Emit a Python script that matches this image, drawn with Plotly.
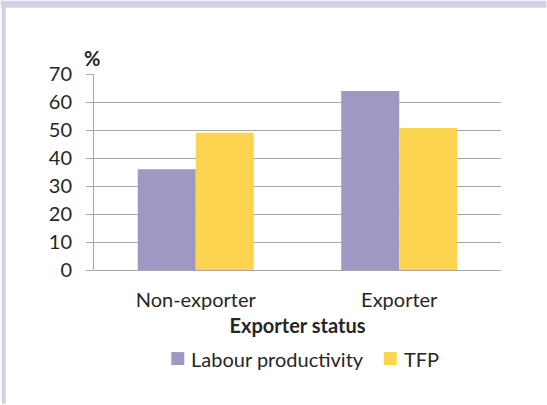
import plotly.graph_objects as go

categories = ["Non-exporter", "Exporter"]
labour_productivity = [36.0, 63.9]
tfp = [49.0, 50.7]
y_ticks = [0, 10, 20, 30, 40, 50, 60, 70]
series_names = ["Labour productivity", "TFP"]
series_colors = ["#9E99C2", "#FDD44F"]

W, H = 547, 405
L, R, T, B = 93.5, 45.5, 73.5, 134.5
pw, ph = W - L - R, H - T - B

def px_x(x):
    return (x - L) / pw

def px_y(y):
    return (H - B - y) / ph

FONT = "Lato"
TXT = "#262626"
FS = 20

fig = go.Figure()
for name, vals, col in zip(series_names, [labour_productivity, tfp], series_colors):
    fig.add_trace(go.Bar(name=name, x=categories, y=vals,
                         marker=dict(color=col, line=dict(width=0))))

# manual legend (swatch + label)
legend_items = [(171, 189), (384, 402)]
shapes = [
    dict(type="rect", xref="paper", yref="paper", x0=px_x(0), x1=px_x(W), y0=px_y(7), y1=px_y(0),
         fillcolor="#D2CFE7", line=dict(width=0), layer="below"),
    dict(type="rect", xref="paper", yref="paper", x0=px_x(1), x1=px_x(5), y0=px_y(H), y1=px_y(0),
         fillcolor="#D2CFE7", line=dict(width=0), layer="below"),
]
annotations = [
    dict(text="<b>%</b>", xref="paper", yref="paper", x=px_x(91), y=px_y(57),
         xanchor="center", yanchor="middle", showarrow=False, font=dict(size=FS, color=TXT)),
]
for (sx, tx), name, col in zip(legend_items, series_names, series_colors):
    shapes.append(dict(type="rect", xref="paper", yref="paper", x0=px_x(sx), x1=px_x(sx + 13),
                       y0=px_y(366), y1=px_y(353), fillcolor=col, line=dict(width=0)))
    annotations.append(dict(text=name, xref="paper", yref="paper", x=px_x(tx), y=px_y(360),
                            xanchor="left", yanchor="middle", showarrow=False,
                            font=dict(size=FS, color=TXT)))

fig.update_layout(
    width=W, height=H,
    margin=dict(l=L, r=R, t=T, b=B, autoexpand=False),
    paper_bgcolor="white", plot_bgcolor="white",
    barmode="group", bargap=0.43, bargroupgap=0,
    font=dict(family=FONT, size=FS, color=TXT),
    showlegend=False,
    xaxis=dict(showline=False, ticks="", showgrid=False, zeroline=False,
               tickfont=dict(size=FS, color=TXT), ticklabelstandoff=16,
               title=dict(text="<b>Exporter status</b>", font=dict(size=FS, color=TXT), standoff=8)),
    yaxis=dict(range=[0, 70], tickvals=y_ticks, showgrid=True, gridcolor="#A6A6A6", gridwidth=1,
               showline=True, linecolor="#A6A6A6", linewidth=1, ticks="outside", ticklen=7,
               tickcolor="#A6A6A6", zeroline=True, zerolinecolor="#A6A6A6", zerolinewidth=1,
               tickfont=dict(size=FS, color=TXT), ticklabelstandoff=10),
    shapes=shapes,
    annotations=annotations,
)

fig.write_html("out.html", config={"displayModeBar": False},
               post_script="document.body.style.margin='0';")
